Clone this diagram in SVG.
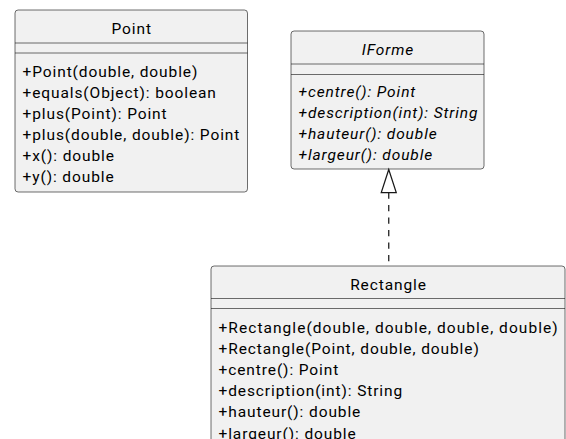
<svg xmlns="http://www.w3.org/2000/svg" width="566" height="439" viewBox="0 0 566 439">
<style>
.box{fill:#F1F1F1;stroke:#181818;stroke-width:0.625}
.sep{stroke:#181818;stroke-width:0.625}
text{font-family:Roboto,"Liberation Sans",sans-serif;font-size:15.5px;letter-spacing:0.9px;fill:#000}
.title{text-anchor:middle}
.abs{font-style:italic}
.conn{stroke:#181818;stroke-width:1.25;fill:none}
</style>
<rect width="566" height="439" fill="#FFFFFF"/>
<g id="Point" transform="translate(15,10)">
<rect class="box" x="0" y="0" width="232.5" height="182" rx="3.1"/>
<line class="sep" x1="0" y1="33" x2="232.5" y2="33"/>
<line class="sep" x1="0" y1="43" x2="232.5" y2="43"/>
<text class="title" x="116.7" y="23.5">Point</text>
<text x="7.5" y="66.5">+Point(double, double)</text>
<text x="7.5" y="87.5">+equals(Object): boolean</text>
<text x="7.5" y="108.5">+plus(Point): Point</text>
<text x="7.5" y="129.5">+plus(double, double): Point</text>
<text x="7.5" y="150.5">+x(): double</text>
<text x="7.5" y="171.5">+y(): double</text>
</g>
<g id="IForme" transform="translate(291,31)">
<rect class="box" x="0" y="0" width="193" height="138" rx="3.1"/>
<line class="sep" x1="0" y1="33" x2="193" y2="33"/>
<line class="sep" x1="0" y1="43.5" x2="193" y2="43.5"/>
<text class="title abs" x="97" y="23.5">IForme</text>
<text class="abs" x="7.5" y="65.5">+centre(): Point</text>
<text class="abs" x="7.5" y="86.5">+description(int): String</text>
<text class="abs" x="7.5" y="107.5">+hauteur(): double</text>
<text class="abs" x="7.5" y="128.5">+largeur(): double</text>
</g>
<g id="Rectangle" transform="translate(211,266)">
<rect class="box" x="0" y="0" width="354" height="182" rx="3.1"/>
<line class="sep" x1="0" y1="32.5" x2="354" y2="32.5"/>
<line class="sep" x1="0" y1="42.5" x2="354" y2="42.5"/>
<text class="title" x="177.5" y="23.5">Rectangle</text>
<text x="7.5" y="66.5" style="letter-spacing:1.05px">+Rectangle(double, double, double, double)</text>
<text x="7.5" y="87.7">+Rectangle(Point, double, double)</text>
<text x="7.5" y="108.9">+centre(): Point</text>
<text x="7.5" y="130.1">+description(int): String</text>
<text x="7.5" y="151.3">+hauteur(): double</text>
<text x="7.5" y="172.5">+largeur(): double</text>
</g>
<g id="connectors">
<path class="conn" d="M388.75,192.5 L388.75,266" stroke-dasharray="6.25,6.25"/>
<polygon class="conn" points="388.75,169.5 381.25,192.5 396.25,192.5"/>
</g>
</svg>
